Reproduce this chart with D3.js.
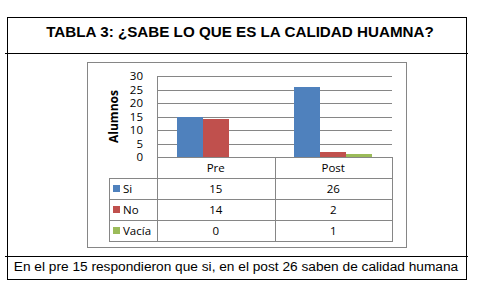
<!DOCTYPE html>
<html>
<head>
<meta charset="utf-8">
<script src="https://cdn.jsdelivr.net/npm/d3@7/dist/d3.min.js"></script>
<style>
  body { margin: 0; background: #fff; }
</style>
</head>
<body>
<div id="chart"></div>
<script>
const categories = ["Pre", "Post"];
const seriesNames = ["Si", "No", "Vacía"];
const siValues = [15, 26];
const noValues = [14, 2];
const vaciaValues = [0, 1];
const yTicks = [0, 5, 10, 15, 20, 25, 30];
const seriesColors = ["#4F81BD", "#C0504D", "#9BBB59"];

const titleText = "TABLA 3: ¿SABE LO QUE ES LA CALIDAD HUAMNA?";
const footerText = "En el pre 15 respondieron que si, en el post 26 saben de calidad humana";

const values = [siValues, noValues, vaciaValues];

const W = 481, H = 293;
const svg = d3.select("#chart").append("svg")
  .attr("width", W).attr("height", H)
  .style("display", "block");

const ink = "#000";
const grey = "#868686";

// outer document table frame
const frame = svg.append("g").attr("shape-rendering", "crispEdges");
frame.append("rect").attr("x", 7.5).attr("y", 17.5).attr("width", 459).attr("height", 262)
  .attr("fill", "none").attr("stroke", ink);
frame.append("line").attr("x1", 5).attr("x2", 468).attr("y1", 53.5).attr("y2", 53.5).attr("stroke", ink);
frame.append("line").attr("x1", 5).attr("x2", 468).attr("y1", 256.5).attr("y2", 256.5).attr("stroke", ink);

svg.append("text")
  .attr("x", 240).attr("y", 37)
  .attr("text-anchor", "middle")
  .style("font-family", "'Liberation Sans', Arial, sans-serif")
  .style("font-weight", "bold")
  .style("font-size", "15.2px")
  .text(titleText);

svg.append("text")
  .attr("x", 236).attr("y", 271)
  .attr("text-anchor", "middle")
  .style("font-family", "'Liberation Sans', Arial, sans-serif")
  .style("font-size", "13.7px")
  .text(footerText);

// chart area box
svg.append("rect").attr("x", 87.5).attr("y", 62.5).attr("width", 319).attr("height", 185)
  .attr("fill", "#fff").attr("stroke", grey).attr("shape-rendering", "crispEdges");

const plotLeft = 157, plotRight = 392, plotTop = 76, plotBottom = 157;

const x = d3.scaleBand().domain(categories).range([plotLeft, plotRight]);
const x1 = d3.scaleBand().domain(seriesNames).range([0, x.bandwidth()])
  .paddingInner(0).paddingOuter(0.76);
const y = d3.scaleLinear().domain([0, 30]).range([plotBottom, plotTop]);

const chartFont = "'Open Sans', 'Liberation Sans', sans-serif";

// gridlines + y axis
const yAxis = svg.append("g")
  .attr("transform", `translate(${plotLeft},0)`)
  .call(d3.axisLeft(y).tickValues(yTicks).tickSize(-(plotRight - plotLeft)).tickPadding(14));
yAxis.select(".domain").attr("stroke", grey);
yAxis.selectAll(".tick line").attr("stroke", grey).attr("shape-rendering", "crispEdges");
yAxis.selectAll(".tick text")
  .style("font-family", chartFont).style("font-size", "11.5px").attr("fill", "#000");
yAxis.select(".domain").attr("d", `M0,${plotTop}V${plotBottom}`).attr("shape-rendering", "crispEdges");

svg.append("text")
  .attr("transform", `translate(118,${(plotTop + plotBottom) / 2}) rotate(-90)`)
  .attr("text-anchor", "middle")
  .style("font-family", chartFont).style("font-weight", "bold").style("font-size", "12px")
  .text("Alumnos");

// bars
seriesNames.forEach((s, si) => {
  svg.append("g").selectAll("rect")
    .data(categories.map((c, ci) => ({ c, v: values[si][ci] })))
    .join("rect")
    .attr("x", d => x(d.c) + x1(s))
    .attr("width", x1.bandwidth())
    .attr("y", d => y(d.v))
    .attr("height", d => y(0) - y(d.v))
    .attr("fill", seriesColors[si])
    .attr("shape-rendering", "crispEdges");
});

// data table
const tableLeft = 109;
const rows = d3.scaleBand().domain(["head", ...seriesNames]).range([plotBottom, 241]);
const tbl = svg.append("g").attr("shape-rendering", "crispEdges")
  .attr("stroke", grey).attr("fill", "none");

// horizontal lines
tbl.append("line").attr("x1", plotLeft).attr("x2", plotRight)
  .attr("y1", plotBottom + 0.5).attr("y2", plotBottom + 0.5);
seriesNames.forEach(s => {
  tbl.append("line").attr("x1", tableLeft).attr("x2", plotRight)
    .attr("y1", rows(s) + 0.5).attr("y2", rows(s) + 0.5);
});
tbl.append("line").attr("x1", tableLeft).attr("x2", plotRight)
  .attr("y1", rows.range()[1] + 0.5).attr("y2", rows.range()[1] + 0.5);
// vertical lines
tbl.append("line").attr("x1", tableLeft + 0.5).attr("x2", tableLeft + 0.5)
  .attr("y1", rows("Si")).attr("y2", rows.range()[1] + 1);
[plotLeft, x("Post"), plotRight].forEach(px => {
  tbl.append("line").attr("x1", px + 0.5).attr("x2", px + 0.5)
    .attr("y1", plotBottom).attr("y2", rows.range()[1] + 1);
});

const tText = svg.append("g")
  .style("font-family", chartFont).style("font-size", "11.5px");
categories.forEach(c => {
  tText.append("text")
    .attr("x", x(c) + x.bandwidth() / 2).attr("y", rows("head") + rows.bandwidth() / 2 + 4)
    .attr("text-anchor", "middle").text(c);
});
seriesNames.forEach((s, si) => {
  const cy = rows(s) + rows.bandwidth() / 2;
  tText.append("rect").attr("x", 113).attr("y", cy - 3.5).attr("width", 7).attr("height", 7)
    .attr("fill", seriesColors[si]);
  tText.append("text").attr("x", 123).attr("y", cy + 4).text(s);
  categories.forEach((c, ci) => {
    tText.append("text")
      .attr("x", x(c) + x.bandwidth() / 2).attr("y", cy + 4)
      .attr("text-anchor", "middle").text(values[si][ci]);
  });
});
</script>
</body>
</html>
